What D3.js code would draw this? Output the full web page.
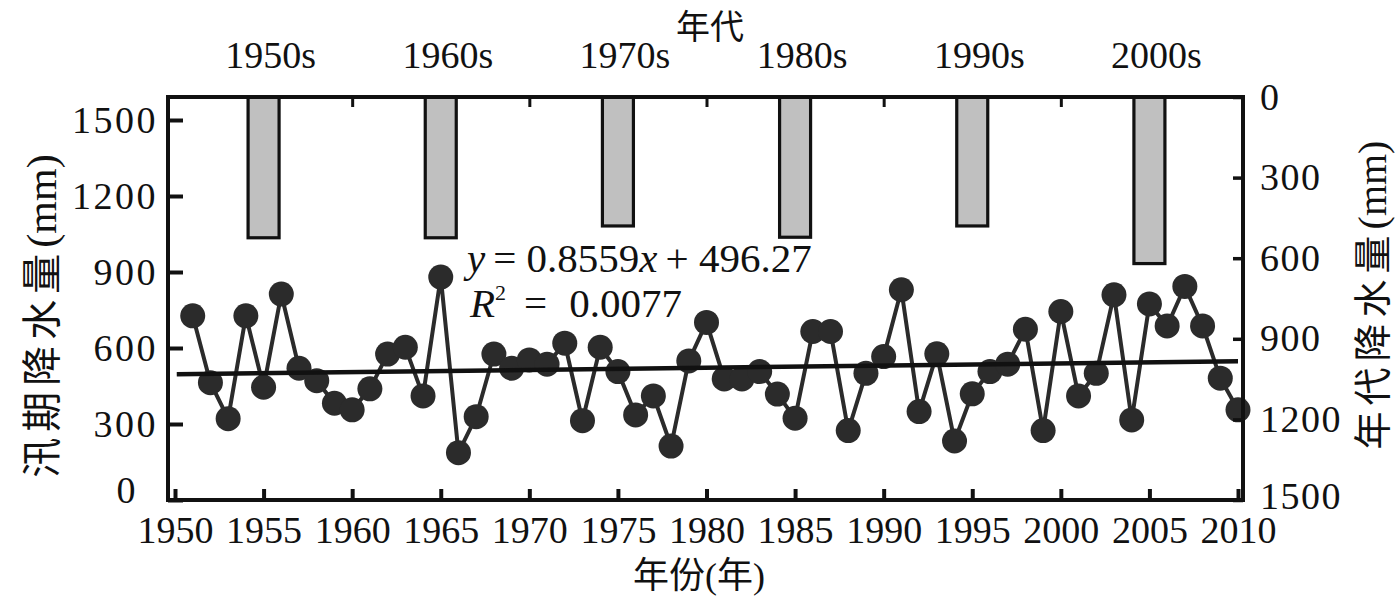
<!DOCTYPE html>
<html>
<head>
<meta charset="utf-8">
<script src="https://cdn.jsdelivr.net/npm/d3@7"></script>
<style>
  html, body { margin: 0; padding: 0; background: #fff; }
  svg { display: block; }
  .num { font-family: "Liberation Serif", "DejaVu Serif", serif; fill: #111; }
  .cjk { font-family: "Noto Sans CJK SC", sans-serif; fill: #111; }
</style>
</head>
<body>
<svg id="chart" width="1398" height="599"></svg>
<script>
// ---------------- data ----------------
const years = d3.range(1951, 2011);
const floodRain = [
  727, 463, 321, 727, 445, 813, 520, 471, 382, 356,
  439, 576, 603, 411, 880, 187, 329, 576, 520, 553,
  536, 619, 313, 603, 507, 336, 411, 213, 549, 701,
  478, 478, 507, 418, 323, 665, 665, 274, 500, 566,
  830, 349, 577, 233, 419, 507, 536, 674, 274, 744,
  411, 500, 810, 316, 774, 687, 843, 687, 481, 356
];
const decades = ["1950s", "1960s", "1970s", "1980s", "1990s", "2000s"];
const decadeCenters = [1955, 1965, 1975, 1985, 1995, 2005];
const decadeRain = [524, 524, 480, 522, 480, 620];
const xTicks = [1950, 1955, 1960, 1965, 1970, 1975, 1980, 1985, 1990, 1995, 2000, 2005, 2010];
const topTicks = [1960, 1970, 1980, 1990, 2000];
const leftTicks = [0, 300, 600, 900, 1200, 1500];
const rightTicks = [0, 300, 600, 900, 1200, 1500];
const trendSlope = 0.8559, trendIntercept = 496.27;

// ---------------- layout ----------------
const svg = d3.select("#chart");
const L = 168, R = 1243, T = 97, B = 500;
const x = d3.scaleLinear().domain([1950, 2010]).range([175, 1238]);
const yL = d3.scaleLinear().domain([0, 1500]).range([500, 120]);
const yR = d3.scaleLinear().domain([0, 1500]).range([T, B]);
const ink = "#2b2b2b";

// bars (right axis, hanging from top)
const barW = 31;
svg.append("g").selectAll("rect").data(decadeRain).join("rect")
  .attr("x", (d, i) => x(decadeCenters[i]) - barW / 2)
  .attr("y", yR(0))
  .attr("width", barW)
  .attr("height", d => yR(d) - yR(0))
  .attr("fill", "#c0c0c0")
  .attr("stroke", "#111")
  .attr("stroke-width", 3.2);

// series line
const line = d3.line().x((d, i) => x(years[i])).y(d => yL(d));
svg.append("path").datum(floodRain)
  .attr("d", line).attr("fill", "none")
  .attr("stroke", ink).attr("stroke-width", 4);

// markers
svg.append("g").selectAll("circle").data(floodRain).join("circle")
  .attr("cx", (d, i) => x(years[i])).attr("cy", d => yL(d))
  .attr("r", 12.5).attr("fill", ink);

// trend line
svg.append("line")
  .attr("x1", x(1950.1)).attr("y1", yL(trendIntercept + trendSlope * 0.1))
  .attr("x2", x(2010)).attr("y2", yL(trendIntercept + trendSlope * 60))
  .attr("stroke", "#111").attr("stroke-width", 4.5);

// frame
svg.append("rect").attr("x", L).attr("y", T).attr("width", R - L).attr("height", B - T)
  .attr("fill", "none").attr("stroke", "#111").attr("stroke-width", 4);

// bottom axis
const gx = svg.append("g").attr("transform", `translate(0,${B})`)
  .call(d3.axisBottom(x).tickValues(xTicks).tickFormat(d3.format("d")).tickSizeInner(-11).tickSizeOuter(0).tickPadding(22));
gx.select(".domain").remove();
gx.selectAll(".tick line").attr("stroke", "#111").attr("stroke-width", 4);
gx.selectAll(".tick text").attr("class", "num").attr("font-size", 38).attr("dy", "0.71em").attr("y", 16);

// top axis ticks
const gt = svg.append("g").attr("transform", `translate(0,${T})`)
  .call(d3.axisTop(x).tickValues(topTicks).tickFormat("").tickSizeInner(-10).tickSizeOuter(0));
gt.select(".domain").remove();
gt.selectAll(".tick line").attr("stroke", "#111").attr("stroke-width", 3);

// decade labels on top
svg.append("g").selectAll("text").data(decades).join("text")
  .attr("class", "num").attr("font-size", 38).attr("text-anchor", "middle")
  .attr("x", (d, i) => x(decadeCenters[i] + 0.4)).attr("y", 68).text(d => d);

// left axis
const gl = svg.append("g").attr("transform", `translate(${L},0)`)
  .call(d3.axisLeft(yL).tickValues(leftTicks).tickFormat(d3.format("d")).tickSizeInner(-15).tickSizeOuter(0).tickPadding(27));
gl.select(".domain").remove();
gl.selectAll(".tick line").attr("stroke", "#111").attr("stroke-width", 4);
gl.selectAll(".tick text").attr("class", "num").attr("font-size", 38).attr("letter-spacing", 2.5)
  .attr("x", d => d === 0 ? -30 : -10)
  .attr("y", d => d === 0 ? -10 : 0);

// right axis
const gr = svg.append("g").attr("transform", `translate(${R},0)`)
  .call(d3.axisRight(yR).tickValues(rightTicks).tickFormat(d3.format("d")).tickSizeInner(-10).tickSizeOuter(0).tickPadding(17));
gr.select(".domain").remove();
gr.selectAll(".tick line").attr("stroke", "#111").attr("stroke-width", 3.5);
gr.selectAll(".tick text").attr("class", "num").attr("font-size", 38).attr("letter-spacing", 1.5)
  .attr("y", d => d === 1500 ? -4 : 0);

// axis titles
svg.append("text").attr("class", "cjk").attr("font-size", 34)
  .attr("text-anchor", "middle").attr("x", 710).attr("y", 39).text("年代");
const bt = svg.append("text").attr("text-anchor", "middle").attr("x", 699).attr("y", 588).attr("font-size", 36);
bt.append("tspan").attr("class", "cjk").text("年份");
bt.append("tspan").attr("class", "num").text("(");
bt.append("tspan").attr("class", "cjk").text("年");
bt.append("tspan").attr("class", "num").text(")");

const lt = svg.append("text").attr("text-anchor", "middle")
  .attr("transform", "translate(56,316) rotate(-90)").attr("font-size", 40);
lt.append("tspan").attr("class", "cjk").attr("letter-spacing", 6).text("汛期降水量");
lt.append("tspan").attr("class", "num").attr("font-size", 42).text("(mm)");

const rt = svg.append("text").attr("text-anchor", "middle")
  .attr("transform", "translate(1386,295) rotate(-90)").attr("font-size", 38);
rt.append("tspan").attr("class", "cjk").attr("letter-spacing", 6).text("年代降水量");
rt.append("tspan").attr("class", "num").attr("font-size", 40).text("(mm)");

// equation
const eq = svg.append("text").attr("class", "num").attr("font-size", 41).attr("x", 467).attr("y", 272);
eq.append("tspan").attr("font-style", "italic").text("y");
eq.append("tspan").attr("dx", 8).text("= 0.8559");
eq.append("tspan").attr("font-style", "italic").text("x");
eq.append("tspan").attr("dx", 8).text("+ 496.27");
const r2 = svg.append("text").attr("class", "num").attr("font-size", 41).attr("x", 470).attr("y", 317);
r2.append("tspan").attr("font-style", "italic").text("R");
r2.append("tspan").attr("font-size", 22).attr("dy", -17).text("2");
r2.append("tspan").attr("dy", 17).attr("dx", 18).text("=");
r2.append("tspan").attr("dx", 22).text("0.0077");
</script>
</body>
</html>
